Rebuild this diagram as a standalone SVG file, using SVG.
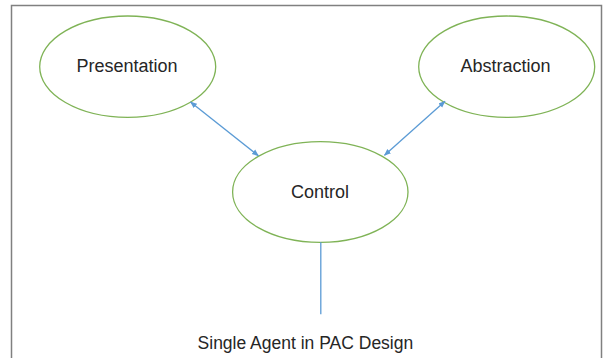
<svg xmlns="http://www.w3.org/2000/svg" width="612" height="358" viewBox="0 0 612 358">
  <style>
    .node ellipse { fill: #ffffff; stroke: #7fb356; stroke-width: 1.3; }
    .label { font-family: "Liberation Sans", Arial, sans-serif; font-size: 18px; fill: #262626; text-anchor: middle; }
    .conn { stroke: #5b9bd5; stroke-width: 1.3; fill: none; }
  </style>
  <defs>
    <marker id="arr" viewBox="0 0 10 10" refX="9" refY="5" markerWidth="7" markerHeight="7" markerUnits="userSpaceOnUse" orient="auto-start-reverse">
      <path d="M0,1 L10,5 L0,9 Z" fill="#5b9bd5"/>
    </marker>
  </defs>
  <rect x="0" y="0" width="612" height="358" fill="#ffffff"/>
  <path d="M11.5,358 V5.5 H601.5 V358" fill="none" stroke="#808080" stroke-width="1.5"/>

  <g id="presentation" class="node">
    <ellipse cx="127.7" cy="66.7" rx="88" ry="50.7"/>
    <text class="label" x="127" y="72">Presentation</text>
  </g>
  <g id="abstraction" class="node">
    <ellipse cx="506.7" cy="66.7" rx="88" ry="50.7"/>
    <text class="label" x="505.5" y="72">Abstraction</text>
  </g>
  <g id="control" class="node">
    <ellipse cx="320.3" cy="192" rx="87.7" ry="50.3"/>
    <text class="label" x="320" y="198">Control</text>
  </g>

  <g id="connectors">
    <line class="conn" x1="190.5" y1="102" x2="258.4" y2="155.7" marker-start="url(#arr)" marker-end="url(#arr)"/>
    <line class="conn" x1="445" y1="101.3" x2="384.5" y2="155.3" marker-start="url(#arr)" marker-end="url(#arr)"/>
    <line class="conn" x1="320.8" y1="242.3" x2="320.8" y2="314.3"/>
  </g>

  <text id="caption" class="label" x="305.4" y="349" style="font-size:17.5px">Single Agent in PAC Design</text>
</svg>
